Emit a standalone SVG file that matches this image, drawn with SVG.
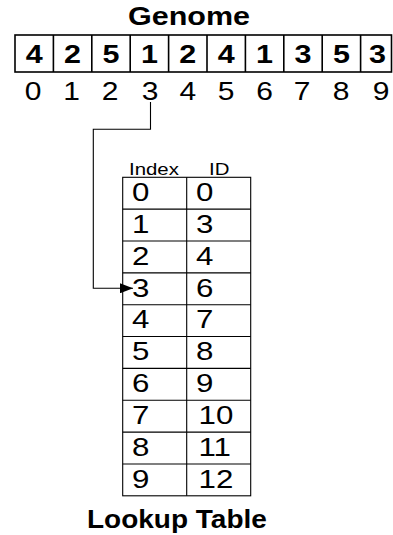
<svg xmlns="http://www.w3.org/2000/svg" width="393" height="535" viewBox="0 0 393 535">
<style>
text{font-family:"Liberation Sans",Arial,sans-serif;fill:#000}
.t{font-weight:bold;font-size:25px;text-anchor:middle}
.g{font-weight:bold;font-size:25px;text-anchor:middle}
.i{font-size:25px;text-anchor:middle}
.h{font-size:17px}
.c{font-size:26.5px}
.gb{fill:#fff;stroke:#000;stroke-width:1.6}
.tb{fill:#fff;stroke:#000;stroke-width:1.1}
.ln{fill:none;stroke:#000;stroke-width:1.1}
</style>
<defs>
<marker id="ah" markerWidth="13" markerHeight="10" refX="13" refY="5" orient="auto" markerUnits="userSpaceOnUse">
<path d="M0,0 L13,5 L0,10 Z" fill="#000"/>
</marker>
</defs>
<rect width="393" height="535" fill="#fff"/>
<g id="genome-title"><text class="t" transform="translate(189,25) scale(1.22,1)">Genome</text></g>
<g id="genome">
<rect class="gb" x="15" y="35" width="376.5" height="37"/>
<path class="gb" d="M53.4,35V72M91.8,35V72M130.2,35V72M168.6,35V72M207,35V72M245.4,35V72M283.8,35V72M322.2,35V72M360.6,35V72"/>
<text class="g" transform="translate(34.2,63) scale(1.22,1)">4</text>
<text class="g" transform="translate(72.6,63) scale(1.22,1)">2</text>
<text class="g" transform="translate(111,63) scale(1.22,1)">5</text>
<text class="g" transform="translate(149.4,63) scale(1.22,1)">1</text>
<text class="g" transform="translate(187.8,63) scale(1.22,1)">2</text>
<text class="g" transform="translate(226.2,63) scale(1.22,1)">4</text>
<text class="g" transform="translate(264.6,63) scale(1.22,1)">1</text>
<text class="g" transform="translate(303,63) scale(1.22,1)">3</text>
<text class="g" transform="translate(341.4,63) scale(1.22,1)">5</text>
<text class="g" transform="translate(377.5,63) scale(1.22,1)">3</text>
</g>
<g id="genome-index">
<text class="i" transform="translate(33,100) scale(1.2,1)">0</text>
<text class="i" transform="translate(71.6,100) scale(1.2,1)">1</text>
<text class="i" transform="translate(110,100) scale(1.2,1)">2</text>
<text class="i" transform="translate(150,100) scale(1.2,1)">3</text>
<text class="i" transform="translate(187.8,100) scale(1.2,1)">4</text>
<text class="i" transform="translate(226.2,100) scale(1.2,1)">5</text>
<text class="i" transform="translate(264.6,100) scale(1.2,1)">6</text>
<text class="i" transform="translate(302,100) scale(1.2,1)">7</text>
<text class="i" transform="translate(341,100) scale(1.2,1)">8</text>
<text class="i" transform="translate(381,100) scale(1.2,1)">9</text>
</g>
<g id="lookup-table">
<text class="h" transform="translate(129,175) scale(1.2,1)">Index</text>
<text class="h" transform="translate(209,175) scale(1.2,1)">ID</text>
<rect class="tb" x="122.7" y="177.3" width="128" height="318.5"/>
<path class="ln" d="M186.7,177.3V495.8M122.7,209.15H250.7M122.7,241H250.7M122.7,272.85H250.7M122.7,304.7H250.7M122.7,336.55H250.7M122.7,368.4H250.7M122.7,400.25H250.7M122.7,432.1H250.7M122.7,463.95H250.7"/>
<text class="c" transform="translate(132,201) scale(1.18,1)">0</text>
<text class="c" transform="translate(132,232.9) scale(1.18,1)">1</text>
<text class="c" transform="translate(132,264.7) scale(1.18,1)">2</text>
<text class="c" transform="translate(132,296.6) scale(1.18,1)">3</text>
<text class="c" transform="translate(132,328.4) scale(1.18,1)">4</text>
<text class="c" transform="translate(132,360.3) scale(1.18,1)">5</text>
<text class="c" transform="translate(132,392.1) scale(1.18,1)">6</text>
<text class="c" transform="translate(132,424) scale(1.18,1)">7</text>
<text class="c" transform="translate(132,455.8) scale(1.18,1)">8</text>
<text class="c" transform="translate(132,487.7) scale(1.18,1)">9</text>
<text class="c" transform="translate(196,201) scale(1.18,1)">0</text>
<text class="c" transform="translate(196,232.9) scale(1.18,1)">3</text>
<text class="c" transform="translate(196,264.7) scale(1.18,1)">4</text>
<text class="c" transform="translate(196,296.6) scale(1.18,1)">6</text>
<text class="c" transform="translate(196,328.4) scale(1.18,1)">7</text>
<text class="c" transform="translate(196,360.3) scale(1.18,1)">8</text>
<text class="c" transform="translate(196,392.1) scale(1.18,1)">9</text>
<text class="c" transform="translate(198.5,424) scale(1.18,1)">10</text>
<text class="c" transform="translate(198.5,455.8) scale(1.18,1)">11</text>
<text class="c" transform="translate(198.5,487.7) scale(1.18,1)">12</text>
</g>
<g id="lookup-title"><text class="t" style="text-anchor:start" transform="translate(87,528) scale(1.12,1)">Lookup Table</text></g>
<g id="connectors">
<path class="ln" d="M150.5,102V129.3H93.3V288.3H133" marker-end="url(#ah)"/>
</g>
</svg>
